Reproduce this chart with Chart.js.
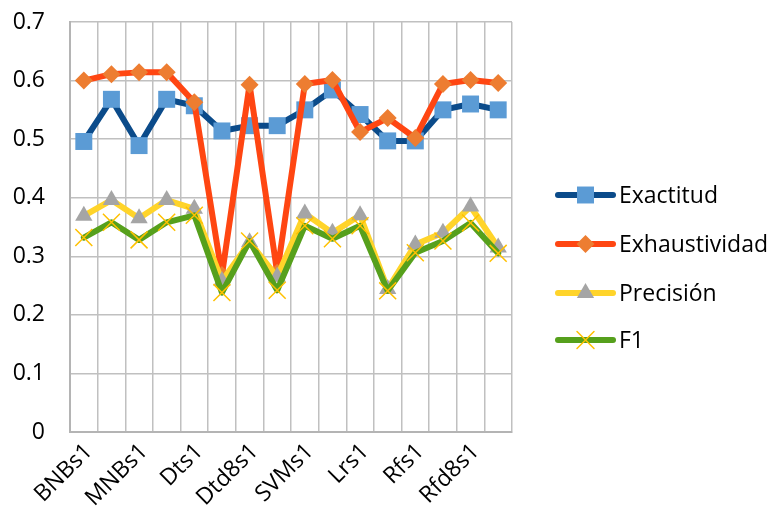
<!DOCTYPE html>
<html>
<head>
<meta charset="utf-8">
<script src="https://cdn.jsdelivr.net/npm/chart.js@4/dist/chart.umd.min.js"></script>
<style>
  html, body { margin: 0; padding: 0; background: #ffffff; }
  #wrap { width: 769px; height: 520px; position: relative; }
</style>
</head>
<body>
<div id="wrap"><canvas id="c" width="769" height="520"></canvas></div>
<script>
// Classifier runs (only every other one is labelled on the axis)
const categories = ['BNBs1', 'BNBs2', 'MNBs1', 'MNBs2', 'Dts1', 'Dts2', 'Dtd8s1', 'Dtd8s2',
                    'SVMs1', 'SVMs2', 'Lrs1', 'Lrs2', 'Rfs1', 'Rfs2', 'Rfd8s1', 'Rfd8s2'];

const exactitud     = [0.496, 0.568, 0.489, 0.568, 0.557, 0.514, 0.523, 0.523,
                       0.550, 0.584, 0.542, 0.497, 0.497, 0.550, 0.560, 0.550];
const exhaustividad = [0.600, 0.611, 0.614, 0.614, 0.563, 0.268, 0.593, 0.272,
                       0.594, 0.601, 0.512, 0.536, 0.502, 0.594, 0.601, 0.596];
const precision     = [0.369, 0.396, 0.365, 0.396, 0.381, 0.258, 0.324, 0.265,
                       0.373, 0.340, 0.370, 0.244, 0.320, 0.340, 0.385, 0.315];
const f1            = [0.332, 0.358, 0.328, 0.358, 0.370, 0.238, 0.326, 0.242,
                       0.352, 0.330, 0.352, 0.241, 0.306, 0.326, 0.357, 0.305];

const yTicks = [0, 0.1, 0.2, 0.3, 0.4, 0.5, 0.6, 0.7];

const FONT = '"Open Sans", "Liberation Sans", sans-serif';
const FONT_SIZE = 23;
const GRID = '#c0c0c0';

// Series listed top-most first: Chart.js paints dataset 0 last.
const series = [
  { label: 'F1', data: f1, line: '#56a01c', style: 'crossRot', fill: '#ffc000', border: '#ffc000', radius: 12, bw: 1.5 },
  { label: 'Precisión', data: precision, line: '#ffd42a', style: 'triangle', fill: '#a5a5a5', border: '#a5a5a5', radius: 10, bw: 0 },
  { label: 'Exhaustividad', data: exhaustividad, line: '#ff4612', style: 'rectRot', fill: '#ed7d31', border: '#ed7d31', radius: 9, bw: 0 },
  { label: 'Exactitud', data: exactitud, line: '#0b4b8a', style: 'rect', fill: '#5b9bd5', border: '#5b9bd5', radius: 12, bw: 0 }
];

const datasets = series.map(s => ({
  label: s.label,
  data: s.data,
  borderColor: s.line,
  backgroundColor: s.fill,
  borderWidth: 6,
  tension: 0,
  pointStyle: s.style,
  pointRadius: s.radius,
  pointHoverRadius: s.radius,
  pointBackgroundColor: s.fill,
  pointBorderColor: s.border,
  pointBorderWidth: s.bw,
  borderJoinStyle: 'round',
  borderCapStyle: 'round'
}));

// Legend on the right: line segment with the series marker on it, then the name
const sideLegend = {
  id: 'sideLegend',
  afterDraw(chart) {
    const ctx = chart.ctx;
    const order = [3, 2, 1, 0];
    const rows = [195, 244, 293, 340];
    const x0 = 558, x1 = 613, tx = 619;
    ctx.save();
    order.forEach((di, k) => {
      const ds = chart.data.datasets[di];
      const y = rows[k];
      ctx.strokeStyle = ds.borderColor;
      ctx.lineWidth = 6;
      ctx.lineCap = 'round';
      ctx.beginPath();
      ctx.moveTo(x0, y);
      ctx.lineTo(x1, y);
      ctx.stroke();
      ctx.fillStyle = ds.pointBackgroundColor;
      ctx.strokeStyle = ds.pointBorderColor;
      ctx.lineWidth = ds.pointBorderWidth || 0.0001;
      Chart.helpers.drawPoint(ctx, { pointStyle: ds.pointStyle, radius: ds.pointRadius, rotation: 0, borderWidth: ds.pointBorderWidth }, (x0 + x1) / 2, y);
      ctx.fillStyle = '#000000';
      ctx.font = FONT_SIZE + 'px ' + FONT;
      ctx.textAlign = 'left';
      ctx.textBaseline = 'middle';
      ctx.fillText(ds.label, tx, y + 1);
    });
    ctx.restore();
  }
};

new Chart(document.getElementById('c'), {
  type: 'line',
  data: { labels: categories, datasets: datasets },
  options: {
    responsive: false,
    animation: false,
    layout: { padding: { left: 0, top: 22, right: 257, bottom: 0 } },
    plugins: {
      legend: { display: false },
      tooltip: { enabled: false }
    },
    scales: {
      x: {
        type: 'category',
        offset: true,
        grid: { offset: true, color: GRID, lineWidth: 1.5, drawTicks: false },
        border: { color: '#b4b4b4', width: 2 },
        afterFit(scale) { scale.height = 88; },
        ticks: {
          autoSkip: false,
          minRotation: 45,
          maxRotation: 45,
          padding: 6,
          labelOffset: 5,
          color: '#000000',
          font: { family: FONT, size: FONT_SIZE },
          callback(value, index) { return index % 2 === 0 ? this.getLabelForValue(value) : ''; }
        }
      },
      y: {
        min: 0,
        max: 0.7,
        afterFit(scale) {
          scale.width = 70;
          scale.paddingTop = 0;
          scale.paddingBottom = 0;
        },
        afterBuildTicks(scale) { scale.ticks = yTicks.map(v => ({ value: v })); },
        grid: { color: GRID, lineWidth: 1.5, drawTicks: false },
        border: { color: '#b4b4b4', width: 2 },
        ticks: {
          padding: 25,
          color: '#000000',
          font: { family: FONT, size: FONT_SIZE },
          callback(v) { return String(Math.round(v * 10) / 10); }
        }
      }
    }
  },
  plugins: [sideLegend]
});
</script>
</body>
</html>
